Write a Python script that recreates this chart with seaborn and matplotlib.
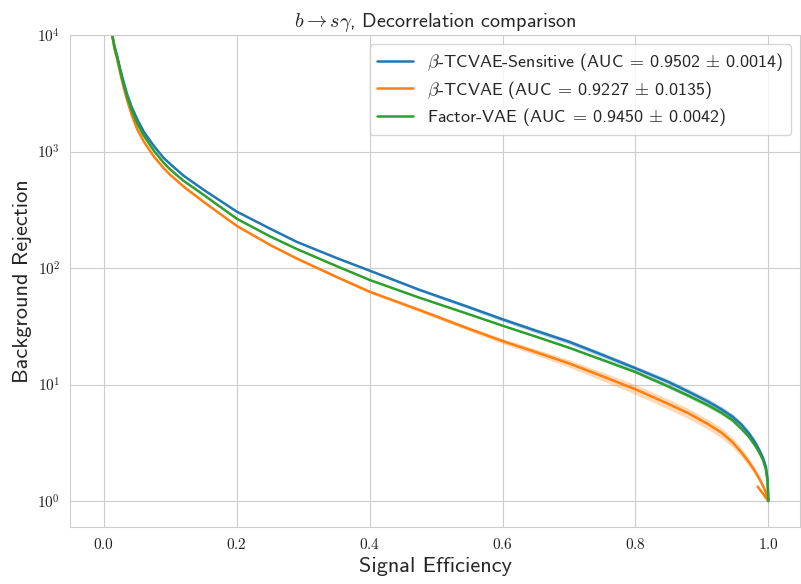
import numpy as np
import pandas as pd
import matplotlib
matplotlib.use("Agg")
import matplotlib.pyplot as plt
from matplotlib.ticker import FixedLocator, FuncFormatter, NullLocator
import seaborn as sns

# signal efficiency points
tpr = [0.0125, 0.016, 0.02, 0.025, 0.03, 0.035, 0.042, 0.05, 0.06, 0.075,
       0.09, 0.1, 0.12, 0.15, 0.2, 0.25, 0.29, 0.35, 0.4, 0.475,
       0.55, 0.6, 0.65, 0.7, 0.75, 0.8, 0.85, 0.88, 0.91, 0.93,
       0.946, 0.96, 0.971, 0.98, 0.9865, 0.992, 0.9965, 0.999, 1.0]

rej_sensitive = [10000, 8000, 6600, 5000, 3900, 3100, 2400, 1900, 1480, 1120,
                 880, 780, 620, 470, 305, 218, 168, 122, 95, 65,
                 46, 36.3, 29, 23.3, 18, 13.8, 10.5, 8.67, 7.1, 6.1,
                 5.3, 4.5, 3.8, 3.2, 2.74, 2.35, 1.96, 1.5, 1.0]
rej_tcvae = [10000, 7600, 6200, 4600, 3500, 2750, 2050, 1560, 1220, 910,
             720, 630, 500, 370, 230, 158, 121, 84, 62.6, 43.6,
             30.0, 23.6, 19, 15.2, 11.8, 9.1, 6.8, 5.66, 4.55, 3.85,
             3.2, 2.6, 2.15, 1.8, 1.55, 1.35, 1.18, 1.06, 1.0]
rej_factor = [10000, 7800, 6400, 4800, 3700, 2950, 2250, 1750, 1370, 1020,
              800, 700, 560, 425, 265, 187, 146, 104, 79, 55.6,
              40, 32, 25.8, 20.7, 16.3, 12.8, 9.6, 8.0, 6.6, 5.7,
              4.95, 4.15, 3.55, 3.0, 2.6, 2.25, 1.85, 1.45, 1.0]

# the beta-TCVAE curve doubles back at the very end
tcvae_tail_tpr = [0.984]
tcvae_tail_rej = [1.33]

# relative spread of the bands
spread_sensitive = [0.01] * 18 + [0.016, 0.026, 0.034, 0.038, 0.042, 0.045, 0.048, 0.05,
                                  0.054, 0.057, 0.06, 0.06, 0.06, 0.057, 0.052, 0.045,
                                  0.038, 0.03, 0.022, 0.012, 0.0]
spread_tcvae = [0.02] * 14 + [0.02, 0.022, 0.025, 0.028, 0.03, 0.035, 0.042, 0.05,
                              0.06, 0.072, 0.085, 0.095, 0.1, 0.1, 0.1, 0.1, 0.095,
                              0.088, 0.078, 0.066, 0.054, 0.042, 0.025, 0.012, 0.0]
spread_factor = [0.005] * 14 + [0.008, 0.008, 0.01, 0.01, 0.01, 0.01, 0.011, 0.013,
                                0.016, 0.019, 0.022, 0.025, 0.032, 0.037, 0.042, 0.045,
                                0.045, 0.042, 0.037, 0.031, 0.025, 0.018, 0.013, 0.007, 0.0]

labels = [
    r"$\beta$-TCVAE-Sensitive (AUC $\!=\!$ 0.9502 $\pm$ 0.0014)",
    r"$\beta$-TCVAE (AUC $\!=\!$ 0.9227 $\pm$ 0.0135)",
    r"Factor-VAE (AUC $\!=\!$ 0.9450 $\pm$ 0.0042)",
]
colors = ["#1f77b4", "#ff7f0e", "#2ca02c"]

sns.set_style("whitegrid")
plt.rcParams["mathtext.fontset"] = "cm"
plt.rcParams["font.family"] = ["cmss10", "DejaVu Sans"]
plt.rcParams["axes.unicode_minus"] = False

f, ax = plt.subplots(1, figsize=(8.01, 5.84), dpi=100)
f.subplots_adjust(left=0.0874, right=0.999, bottom=0.0976, top=0.940)

series = [
    (tpr, rej_sensitive, spread_sensitive),
    (tpr + tcvae_tail_tpr, rej_tcvae + tcvae_tail_rej, spread_tcvae + [0.0]),
    (tpr, rej_factor, spread_factor),
]

n = len(tpr)
for (x, y, s), lab, c in zip(series, labels, colors):
    df = pd.DataFrame({"eff": x, "rej": y, "s": s})
    sns.lineplot(data=df, x="eff", y="rej", ax=ax, color=c, label=lab,
                 sort=False, estimator=None, linewidth=1.8)
    lo = df["rej"][:n] * (1 - df["s"][:n])
    hi = df["rej"][:n] * (1 + df["s"][:n])
    ax.fill_between(df["eff"][:n], lo, hi, color=c, alpha=0.3, linewidth=0)

ax.set_yscale("log")
ax.set_ylim(10 ** -0.223, 1e4)
ax.set_xlim(-0.051, 1.048)
ax.yaxis.set_major_locator(FixedLocator([1, 10, 100, 1000, 10000]))
ax.yaxis.set_minor_locator(NullLocator())
ax.yaxis.set_major_formatter(FuncFormatter(lambda v, p: r"$10^{%d}$" % round(np.log10(v))))
ax.xaxis.set_major_locator(FixedLocator([0.0, 0.2, 0.4, 0.6, 0.8, 1.0]))
ax.xaxis.set_major_formatter(FuncFormatter(lambda v, p: r"$%.1f$" % v))
ax.tick_params(labelsize=11, colors="#222222")

ax.set_title(r"$b \to s\gamma$, Decorrelation comparison", fontsize=14.5)
ax.set_xlabel("Signal Efficiency", fontsize=16)
ax.set_ylabel("Background Rejection", fontsize=16)
ax.legend(loc="upper right", fontsize=13, labelspacing=0.3)

plt.savefig("out.png", dpi=100)
